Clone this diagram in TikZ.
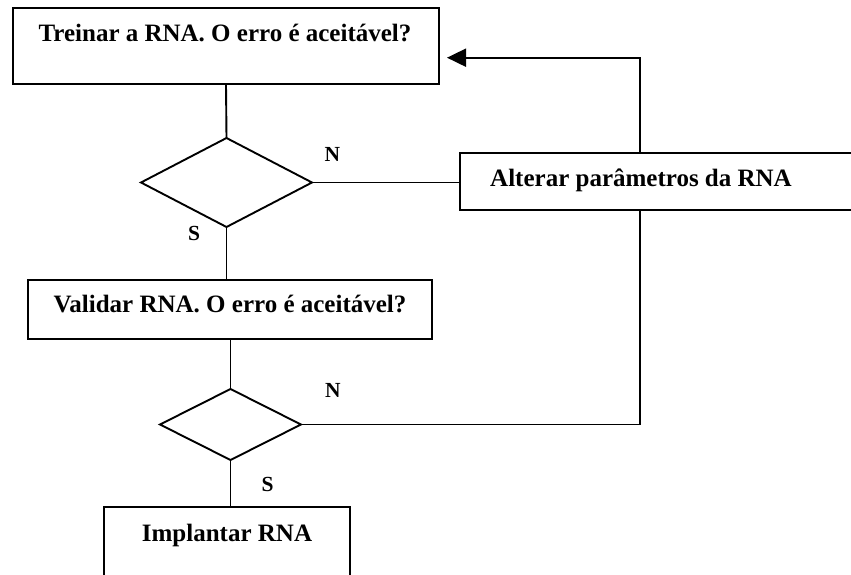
\documentclass[tikz,border=0pt]{standalone}
\usepackage{fontspec}
\setmainfont{Liberation Serif}
\usetikzlibrary{shapes.geometric,arrows.meta}
\begin{document}
\begin{tikzpicture}[x=1pt,y=-1pt,
  box/.style={draw, line width=1.9pt, rectangle, inner sep=0pt, outer sep=0pt},
  decision/.style={draw, line width=1.9pt, diamond, inner sep=0pt, outer sep=0pt},
  caption/.style={font=\bfseries\fontsize{25}{29}\selectfont, inner sep=0pt, anchor=base},
  tag/.style={font=\bfseries\fontsize{21.5}{25}\selectfont, inner sep=0pt, anchor=base},
  link/.style={line width=1.9pt},
  back/.style={line width=1.9pt, -{Triangle[length=19pt,width=18pt]}},
]
\useasboundingbox (0,0) rectangle (851,575);
\fill[white] (0,0) rectangle (851,575);
\clip (0,0) rectangle (851,575);

% boxes
\node[box, minimum width=426pt, minimum height=76pt] (train) at (226,46.3) {};
\node[box, minimum width=404pt, minimum height=59pt] (valid) at (230,309.5) {};
\node[box, minimum width=420pt, minimum height=57pt] (alt) at (670,181.5) {};
\node[box, minimum width=246pt, minimum height=120pt] (impl) at (227,567) {};

% decisions
\node[decision, minimum width=171pt, minimum height=89pt] (d1) at (226.5,182.5) {};
\node[decision, minimum width=141pt, minimum height=71pt] (d2) at (230.5,424.5) {};

% box texts
\node[caption] (ttrain) at (225,41.7) {Treinar a RNA. O erro é aceitável?};
\node[caption] (tvalid) at (230,312.7) {Validar RNA. O erro é aceitável?};
\node[caption] (talt) at (641,186.7) {Alterar parâmetros da RNA};
\node[caption] (timpl) at (227,541.7) {Implantar RNA};

% branch labels
\node[tag] (n1) at (332.5,161.7) {N};
\node[tag] (s1) at (194,240.7) {S};
\node[tag] (n2) at (333,397.3) {N};
\node[tag] (s2) at (267.5,491.7) {S};

% loop column and return point
\coordinate (col) at (640,0);
\coordinate (ret) at (447,57.7);

% connectors
\draw[link] (train.south) -- (d1.north);
\draw[link] (d1.east) -- (d1.east -| alt.west);
\draw[link] (d1.south) -- (d1.south |- valid.north);
\draw[link] (valid.south -| d2.north) -- (d2.north);
\draw[link] (d2.south) -- (d2.south |- impl.north);
\draw[link] (d2.east) -| (col |- alt.south);
\draw[back] (col |- alt.north) |- (ret);
\end{tikzpicture}
\end{document}
